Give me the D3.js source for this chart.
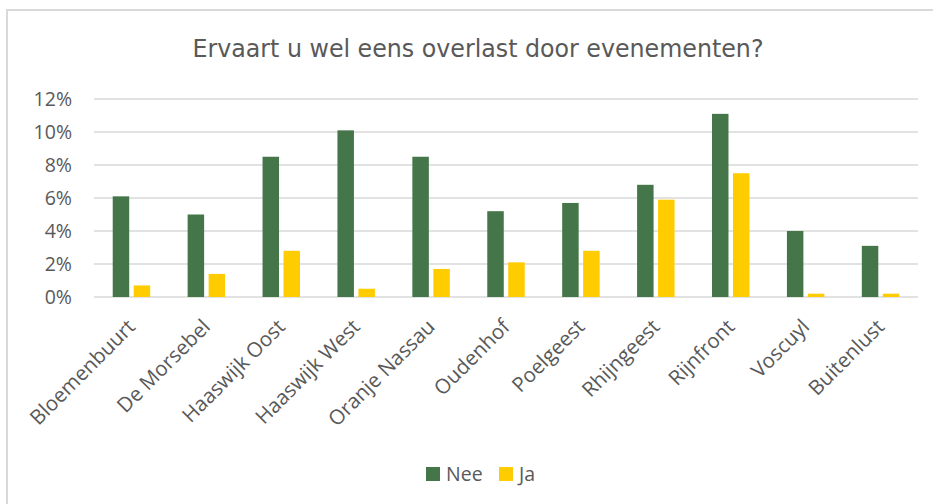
<!DOCTYPE html>
<html>
<head>
<meta charset="utf-8">
<script src="https://d3js.org/d3.v7.min.js"></script>
<style>
body { margin: 0; background: #fff; }
svg { display: block; }
</style>
</head>
<body>
<svg width="933" height="504"></svg>
<script>
// wijken
var categories = ["Bloemenbuurt", "De Morsebel", "Haaswijk Oost", "Haaswijk West", "Oranje Nassau",
  "Oudenhof", "Poelgeest", "Rhijngeest", "Rijnfront", "Voscuyl", "Buitenlust"];
var series = ["Nee", "Ja"];
var nee = [0.061, 0.050, 0.085, 0.101, 0.085, 0.052, 0.057, 0.068, 0.111, 0.040, 0.031];
var ja = [0.007, 0.014, 0.028, 0.005, 0.017, 0.021, 0.028, 0.059, 0.075, 0.002, 0.002];
var yTicks = [0, 0.02, 0.04, 0.06, 0.08, 0.10, 0.12];

var svg = d3.select("svg");
var textColor = "#595959";
var colors = { "Nee": "#447649", "Ja": "#ffcc00" };
var axisFont = "'Open Sans', 'DejaVu Sans', sans-serif";

// chart border
svg.append("rect")
  .attr("x", 7).attr("y", 10)
  .attr("width", 1000).attr("height", 1000)
  .attr("fill", "#fff")
  .attr("stroke", "#d9d9d9")
  .attr("stroke-width", 2);

// plot area (note: "top" is reserved on window)
var plotLeft = 94, plotRight = 918, plotTop = 99, plotBottom = 297;

var x0 = d3.scaleBand().domain(categories).range([plotLeft, plotRight]).padding(0);
var x1 = d3.scaleBand().domain(series)
  .range([x0.bandwidth() * 0.25, x0.bandwidth() * 0.75])
  .paddingInner(0.214).paddingOuter(0);
var y = d3.scaleLinear().domain([0, 0.12]).range([plotBottom, plotTop]);

// gridlines
svg.append("g")
  .selectAll("line")
  .data(yTicks)
  .enter().append("line")
  .attr("x1", plotLeft).attr("x2", plotRight)
  .attr("y1", function(d) { return y(d); })
  .attr("y2", function(d) { return y(d); })
  .attr("stroke", "#d9d9d9")
  .attr("stroke-width", 1.5);

// y axis labels
var yAxis = svg.append("g")
  .attr("transform", "translate(" + (plotLeft - 22) + ",0)")
  .call(d3.axisLeft(y).tickValues(yTicks).tickFormat(d3.format(".0%")).tickSize(0).tickPadding(0));
yAxis.select(".domain").remove();
yAxis.selectAll("text")
  .style("font-family", axisFont)
  .style("font-size", "19.5px")
  .attr("fill", textColor);

// bars
var rows = categories.map(function(c, i) { return { cat: c, values: [nee[i], ja[i]] }; });

var groups = svg.append("g")
  .selectAll("g")
  .data(rows)
  .enter().append("g")
  .attr("transform", function(d) { return "translate(" + x0(d.cat) + ",0)"; });

groups.selectAll("rect")
  .data(function(d) { return series.map(function(s, j) { return { key: s, value: d.values[j] }; }); })
  .enter().append("rect")
  .attr("x", function(d) { return x1(d.key); })
  .attr("width", x1.bandwidth())
  .attr("y", function(d) { return y(d.value); })
  .attr("height", function(d) { return y(0) - y(d.value); })
  .attr("fill", function(d) { return colors[d.key]; });

// category labels, rotated
svg.append("g")
  .selectAll("text")
  .data(categories)
  .enter().append("text")
  .attr("transform", function(d) {
    return "translate(" + (x0(d) + x0.bandwidth() / 2) + "," + (plotBottom + 26) + ") rotate(-45)";
  })
  .attr("text-anchor", "end")
  .attr("dy", "0.35em")
  .style("font-family", axisFont)
  .style("font-size", "20.5px")
  .attr("fill", textColor)
  .text(function(d) { return d; });

// title
svg.append("text")
  .attr("x", 478).attr("y", 57)
  .attr("text-anchor", "middle")
  .attr("textLength", 571)
  .attr("lengthAdjust", "spacingAndGlyphs")
  .style("font-family", "'Liberation Sans Narrow', 'DejaVu Sans Condensed', 'Open Sans', sans-serif")
  .style("font-size", "25.5px")
  .attr("fill", textColor)
  .text("Ervaart u wel eens overlast door evenementen?");

// legend
var legend = svg.append("g")
  .selectAll("g")
  .data(series)
  .enter().append("g")
  .attr("transform", function(d, i) { return "translate(" + [426, 499][i] + ",467)"; });

legend.append("rect")
  .attr("width", 14).attr("height", 14)
  .attr("fill", function(d) { return colors[d]; });

legend.append("text")
  .attr("x", 20).attr("y", 7)
  .attr("dy", "0.35em")
  .style("font-family", axisFont)
  .style("font-size", "19.5px")
  .attr("fill", textColor)
  .text(function(d) { return d; });
</script>
</body>
</html>
